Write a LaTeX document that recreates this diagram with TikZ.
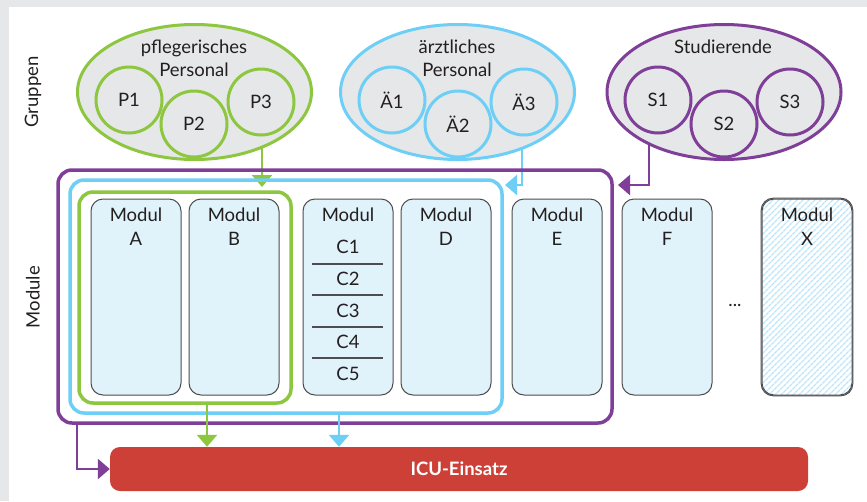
\documentclass[tikz,border=0pt]{standalone}
\usepackage{fontspec}
\setmainfont{Lato}
\usetikzlibrary{arrows.meta,patterns.meta,shapes.geometric,calc}
\definecolor{cgreen}{HTML}{8DC63F}
\definecolor{cblue}{HTML}{6DCFF6}
\definecolor{cpurple}{HTML}{7F3F98}
\definecolor{cgray}{HTML}{E6E7E8}
\definecolor{ctext}{HTML}{231F20}
\definecolor{cmod}{HTML}{E0F2FA}
\definecolor{cred}{HTML}{CC4037}
\definecolor{cedge}{HTML}{4D4D4F}
\pgfdeclarelayer{bg}
\pgfdeclarelayer{mid}
\pgfsetlayers{bg,mid,main}
\tikzset{
  grp/.style={ellipse, draw=#1, line width=3pt, fill=cgray, minimum width=234pt, minimum height=135pt, inner sep=0pt},
  mem/.style={circle, draw=#1, line width=3pt, fill=cgray, minimum size=66pt, inner sep=0pt, font=\fontsize{18.5}{20}\selectfont, text=ctext},
  lbl/.style={font=\fontsize{18.5}{23}\selectfont, text=ctext, align=center},
  modbox/.style={draw=cedge, line width=1pt, fill=cmod, rounded corners=12pt, minimum width=90pt, minimum height=196pt, inner sep=0pt},
  frame/.style={draw=#1, line width=3.5pt, rounded corners=14pt},
  conn/.style={draw=#1, line width=2.5pt, -{Triangle[width=20pt,length=12pt]}},
  side/.style={font=\fontsize{18.5}{20}\selectfont, text=ctext, rotate=90},
  sepline/.style={draw=cedge, line width=1.2pt}
}
\begin{document}
\begin{tikzpicture}[x=1pt,y=-1pt]
\useasboundingbox (0,0) rectangle (867,501);
\begin{pgfonlayer}{bg}
\fill[cgray] (0,0) rectangle (867,501);
\fill[white] (9,7) rectangle (867,501);
\end{pgfonlayer}

% side labels
\node[side] (lgr) at (33,92) {Gruppen};
\node[side] (lmo) at (33,297) {Module};

% group ellipses
\node[grp=cgreen] (gP) at (194.5,92) {};
\node[grp=cblue] (gA) at (457.5,92) {};
\node[grp=cpurple] (gS) at (724,92) {};
\node[lbl] (tP) at (194,58) {pflegerisches\\Personal};
\node[lbl] (tA) at (457,58) {ärztliches\\Personal};
\node[lbl] (tS) at (723,47) {Studierende};

\node[mem=cgreen] (P1) at (129,100) {P1};
\node[mem=cgreen] (P2) at (194,124) {P2};
\node[mem=cgreen] (P3) at (261,102) {P3};
\node[mem=cblue] (A1) at (392,100) {Ä1};
\node[mem=cblue] (A2) at (458,124) {Ä2};
\node[mem=cblue] (A3) at (524,102) {Ä3};
\node[mem=cpurple] (S1) at (658,100) {S1};
\node[mem=cpurple] (S2) at (724,124) {S2};
\node[mem=cpurple] (S3) at (790,102) {S3};

% frames
\draw[frame=cpurple] (58,170) rectangle (612,423);
\draw[frame=cblue] (70,180) rectangle (502,413);
\draw[frame=cgreen] (79,192) rectangle (291,403);
\coordinate (fPtop) at (618,185);
\coordinate (fAtop) at (505,185);
\coordinate (fGtop) at (262,187);
\coordinate (fGbot) at (207,403);
\coordinate (fAbot) at (339,413);
\coordinate (fPbot) at (77,423);

% modules
\node[modbox] (mA) at (136,297) {};
\node[modbox] (mB) at (234,297) {};
\node[modbox] (mC) at (348,297) {};
\node[modbox] (mD) at (446,297) {};
\node[modbox] (mE) at (557,297) {};
\node[modbox] (mF) at (667,297) {};
\node[modbox, pattern={Lines[angle=45,distance=4pt,line width=1.6pt]}, pattern color=cmod!70!cblue] (mX) at (807,297) {};
\draw[draw=cedge, line width=1pt, rounded corners=12pt] (mX.north west) rectangle (mX.south east);

\node[lbl, anchor=base] (tA) at (136,221) {Modul};
\node[lbl, anchor=base] (tA2) at (136,245) {A};
\node[lbl, anchor=base] (tB) at (234,221) {Modul};
\node[lbl, anchor=base] (tB2) at (234,245) {B};
\node[lbl, anchor=base] (tC) at (348,221) {Modul};
\node[lbl, anchor=base] (tD) at (446,221) {Modul};
\node[lbl, anchor=base] (tD2) at (446,245) {D};
\node[lbl, anchor=base] (tE) at (557,221) {Modul};
\node[lbl, anchor=base] (tE2) at (557,245) {E};
\node[lbl, anchor=base] (tF) at (667,221) {Modul};
\node[lbl, anchor=base] (tF2) at (667,245) {F};
\node[lbl, anchor=base] (tX) at (807,221) {Modul};
\node[lbl, anchor=base] (tX2) at (807,245) {X};

\node[lbl] (c1) at (348,247) {C1};
\node[lbl] (c2) at (348,279) {C2};
\node[lbl] (c3) at (348,311) {C3};
\node[lbl] (c4) at (348,342) {C4};
\node[lbl] (c5) at (348,374) {C5};
\draw[sepline] (312,264) -- (383,264);
\draw[sepline] (312,295) -- (383,295);
\draw[sepline] (312,327) -- (383,327);
\draw[sepline] (312,358) -- (383,358);

\node[lbl] (dots) at (735,305) {...};

% ICU bar
\node[fill=cred, rounded corners=10pt, minimum width=698pt, minimum height=44pt, inner sep=0pt, text=white, font=\bfseries\fontsize{18.5}{20}\selectfont] (icu) at (459,469) {ICU-Einsatz};

% connectors from groups (behind the ellipses)
\begin{pgfonlayer}{mid}
\draw[conn=cgreen] ($(gP.center)+(67.5,40)$) -- (fGtop);
\draw[conn=cblue] ($(gA.center)+(64.5,40)$) |- (fAtop);
\draw[conn=cpurple] ($(gS.center)+(-75,40)$) |- (fPtop);
\end{pgfonlayer}

% connectors to ICU
\draw[conn=cgreen] (fGbot) -- (fGbot |- icu.north);
\draw[conn=cblue] (fAbot) -- (fAbot |- icu.north);
\draw[conn=cpurple] (fPbot) |- (icu.west);
\end{tikzpicture}
\end{document}
